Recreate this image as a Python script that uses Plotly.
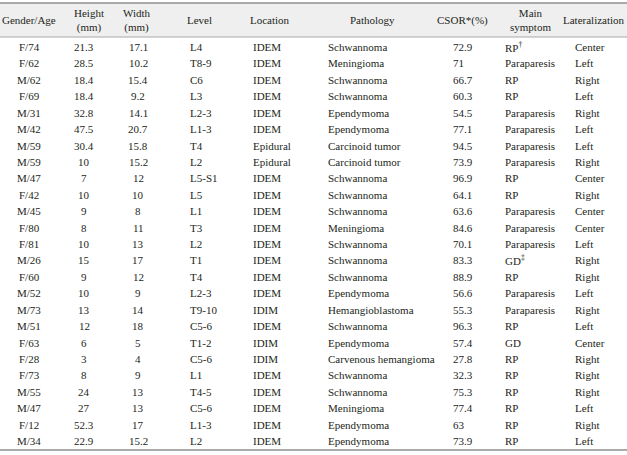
import plotly.graph_objects as go

# ---- data ----
gender_age = ["F/74", "F/62", "M/62", "F/69", "M/31", "M/42", "M/59", "M/59", "M/47", "F/42",
              "M/45", "F/80", "F/81", "M/26", "F/60", "M/52", "M/73", "M/51", "F/63", "F/28",
              "F/73", "M/55", "M/47", "F/12", "M/34"]
height_mm = ["21.3", "28.5", "18.4", "18.4", "32.8", "47.5", "30.4", "10", "7", "10",
             "9", "8", "10", "15", "9", "10", "13", "12", "6", "3",
             "8", "24", "27", "52.3", "22.9"]
width_mm = ["17.1", "10.2", "15.4", "9.2", "14.1", "20.7", "15.8", "15.2", "12", "10",
            "8", "11", "13", "17", "12", "9", "14", "18", "5", "4",
            "9", "13", "13", "17", "15.2"]
level = ["L4", "T8-9", "C6", "L3", "L2-3", "L1-3", "T4", "L2", "L5-S1", "L5",
         "L1", "T3", "L2", "T1", "T4", "L2-3", "T9-10", "C5-6", "T1-2", "C5-6",
         "L1", "T4-5", "C5-6", "L1-3", "L2"]
location = ["IDEM", "IDEM", "IDEM", "IDEM", "IDEM", "IDEM", "Epidural", "Epidural", "IDEM", "IDEM",
            "IDEM", "IDEM", "IDEM", "IDEM", "IDEM", "IDEM", "IDIM", "IDEM", "IDIM", "IDIM",
            "IDEM", "IDEM", "IDEM", "IDEM", "IDEM"]
pathology = ["Schwannoma", "Meningioma", "Schwannoma", "Schwannoma", "Ependymoma", "Ependymoma",
             "Carcinoid tumor", "Carcinoid tumor", "Schwannoma", "Schwannoma", "Schwannoma",
             "Meningioma", "Schwannoma", "Schwannoma", "Schwannoma", "Ependymoma",
             "Hemangioblastoma", "Schwannoma", "Ependymoma", "Carvenous hemangioma",
             "Schwannoma", "Schwannoma", "Meningioma", "Ependymoma", "Ependymoma"]
csor = ["72.9", "71", "66.7", "60.3", "54.5", "77.1", "94.5", "73.9", "96.9", "64.1",
        "63.6", "84.6", "70.1", "83.3", "88.9", "56.6", "55.3", "96.3", "57.4", "27.8",
        "32.3", "75.3", "77.4", "63", "73.9"]
main_symptom = ["RP<sup>†</sup>", "Paraparesis", "RP", "RP", "Paraparesis", "Paraparesis",
                "Paraparesis", "Paraparesis", "RP", "RP", "Paraparesis", "Paraparesis",
                "Paraparesis", "GD<sup>‡</sup>", "RP", "Paraparesis", "Paraparesis", "RP",
                "GD", "RP", "RP", "RP", "RP", "RP", "RP"]
lateralization = ["Center", "Left", "Right", "Left", "Right", "Left", "Left", "Right", "Center",
                  "Right", "Center", "Center", "Left", "Right", "Right", "Left", "Right", "Left",
                  "Center", "Right", "Right", "Right", "Left", "Right", "Left"]
headers = ["Gender/Age", "Height<br>(mm)", "Width<br>(mm)", "Level", "Location",
           "Pathology", "CSOR*(%)", "Main<br>symptom", "Lateralization"]
# ----------------

columns = [gender_age, height_mm, width_mm, level, location, pathology, csor,
           main_symptom, lateralization]

W, H = 627, 455
ROW0, ROWH = 47.0, 16.42


def py(p):  # pixel row -> row units
    return (p - ROW0) / ROWH


col_x = [29, 84, 138, 189, 252, 327, 452, 504, 574]
col_anchor = ["center", "center", "center", "left", "left", "left", "left", "left", "left"]
head_x = [29, 89, 137, 199, 270, 372, 462, 530, 594]

FONT = dict(family="Liberation Serif, Times New Roman, serif", size=11, color="#231f20")

fig = go.Figure()
fig.add_trace(go.Scatter(x=[0, W], y=[py(0), py(H)], mode="markers",
                         marker=dict(opacity=0), hoverinfo="skip", showlegend=False))

ann = []
for c, col in enumerate(columns):
    for r, val in enumerate(col):
        ann.append(dict(x=col_x[c], y=r, xref="x", yref="y", text=val, showarrow=False,
                        xanchor=col_anchor[c], yanchor="middle", font=FONT, borderpad=0))
    ann.append(dict(x=head_x[c], y=py(20), xref="x", yref="y", text=headers[c],
                    showarrow=False, xanchor="center", yanchor="middle",
                    font=FONT, borderpad=0, align="center"))

shapes = [
    dict(type="rect", xref="x", yref="y", x0=0, x1=W, y0=py(3), y1=py(37),
         fillcolor="#efefef", line=dict(width=0), layer="below"),
    dict(type="line", xref="x", yref="y", x0=0, x1=W, y0=py(3), y1=py(3),
         line=dict(color="#8f8f8f", width=1.6)),
    dict(type="line", xref="x", yref="y", x0=0, x1=W, y0=py(37), y1=py(37),
         line=dict(color="#a8a8a8", width=1)),
    dict(type="line", xref="x", yref="y", x0=0, x1=W, y0=py(450), y1=py(450),
         line=dict(color="#8f8f8f", width=1.6)),
]

fig.update_layout(
    width=W, height=H, margin=dict(l=0, r=0, t=0, b=0),
    paper_bgcolor="white", plot_bgcolor="white",
    xaxis=dict(range=[0, W], visible=False, fixedrange=True),
    yaxis=dict(range=[py(H), py(0)], visible=False, fixedrange=True),
    annotations=ann, shapes=shapes, showlegend=False,
)
fig.write_html("out.html", config={"displayModeBar": False},
               post_script="document.body.style.margin='0';document.body.style.overflow='hidden';")
